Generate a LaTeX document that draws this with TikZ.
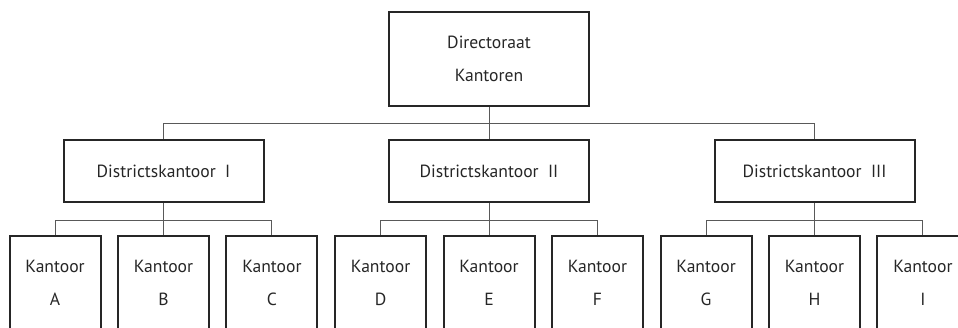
\documentclass[tikz,border=0pt]{standalone}
\usepackage{fontspec}
\setmainfont{PT Sans}
\usetikzlibrary{positioning}

\begin{document}
\begin{tikzpicture}[x=0.5pt,y=0.5pt,node distance=56pt,
  box/.style={rectangle,draw=black!85,line width=1pt,text=black!85,
    font=\fontsize{8.8}{16.5}\selectfont,align=center},
  top node/.style={box,minimum width=100pt,minimum height=47pt},
  district node/.style={box,minimum width=100pt,minimum height=31pt},
  office node/.style={box,minimum width=45.5pt,minimum height=47pt},
  link/.style={draw=black!65,line width=0.5pt}]

  \clip (0,0) rectangle (958,-327);

  \node[top node] (Dir) at (489,-59) {Directoraat\\Kantoren};
  \node[district node] (DistII) [below of=Dir] {Districtskantoor~~II};
  \node[district node] (DistI) [node distance=162.75pt, left of=DistII] {Districtskantoor~~I};
  \node[district node] (DistIII) [node distance=162.75pt, right of=DistII] {Districtskantoor~~III};

  \node[office node] (OffB) [below of=DistI] {Kantoor\\B};
  \node[office node] (OffA) [node distance=54.2pt, left of=OffB] {Kantoor\\A};
  \node[office node] (OffC) [node distance=54.2pt, right of=OffB] {Kantoor\\C};
  \node[office node] (OffE) [below of=DistII] {Kantoor\\E};
  \node[office node] (OffD) [node distance=54.2pt, left of=OffE] {Kantoor\\D};
  \node[office node] (OffF) [node distance=54.2pt, right of=OffE] {Kantoor\\F};
  \node[office node] (OffH) [below of=DistIII] {Kantoor\\H};
  \node[office node] (OffG) [node distance=54.2pt, left of=OffH] {Kantoor\\G};
  \node[office node] (OffI) [node distance=54.2pt, right of=OffH] {Kantoor\\I};

  \path[link]
    (Dir.south) -- ++(0,-16) -| (DistI.north)
    (Dir.south) -- (DistII.north)
    (Dir.south) -- ++(0,-16) -| (DistIII.north)
    (DistI.south) -- ++(0,-17) -| (OffA.north)
    (DistI.south) -- (OffB.north)
    (DistI.south) -- ++(0,-17) -| (OffC.north)
    (DistII.south) -- ++(0,-17) -| (OffD.north)
    (DistII.south) -- (OffE.north)
    (DistII.south) -- ++(0,-17) -| (OffF.north)
    (DistIII.south) -- ++(0,-17) -| (OffG.north)
    (DistIII.south) -- (OffH.north)
    (DistIII.south) -- ++(0,-17) -| (OffI.north)
    ;
\end{tikzpicture}
\end{document}
